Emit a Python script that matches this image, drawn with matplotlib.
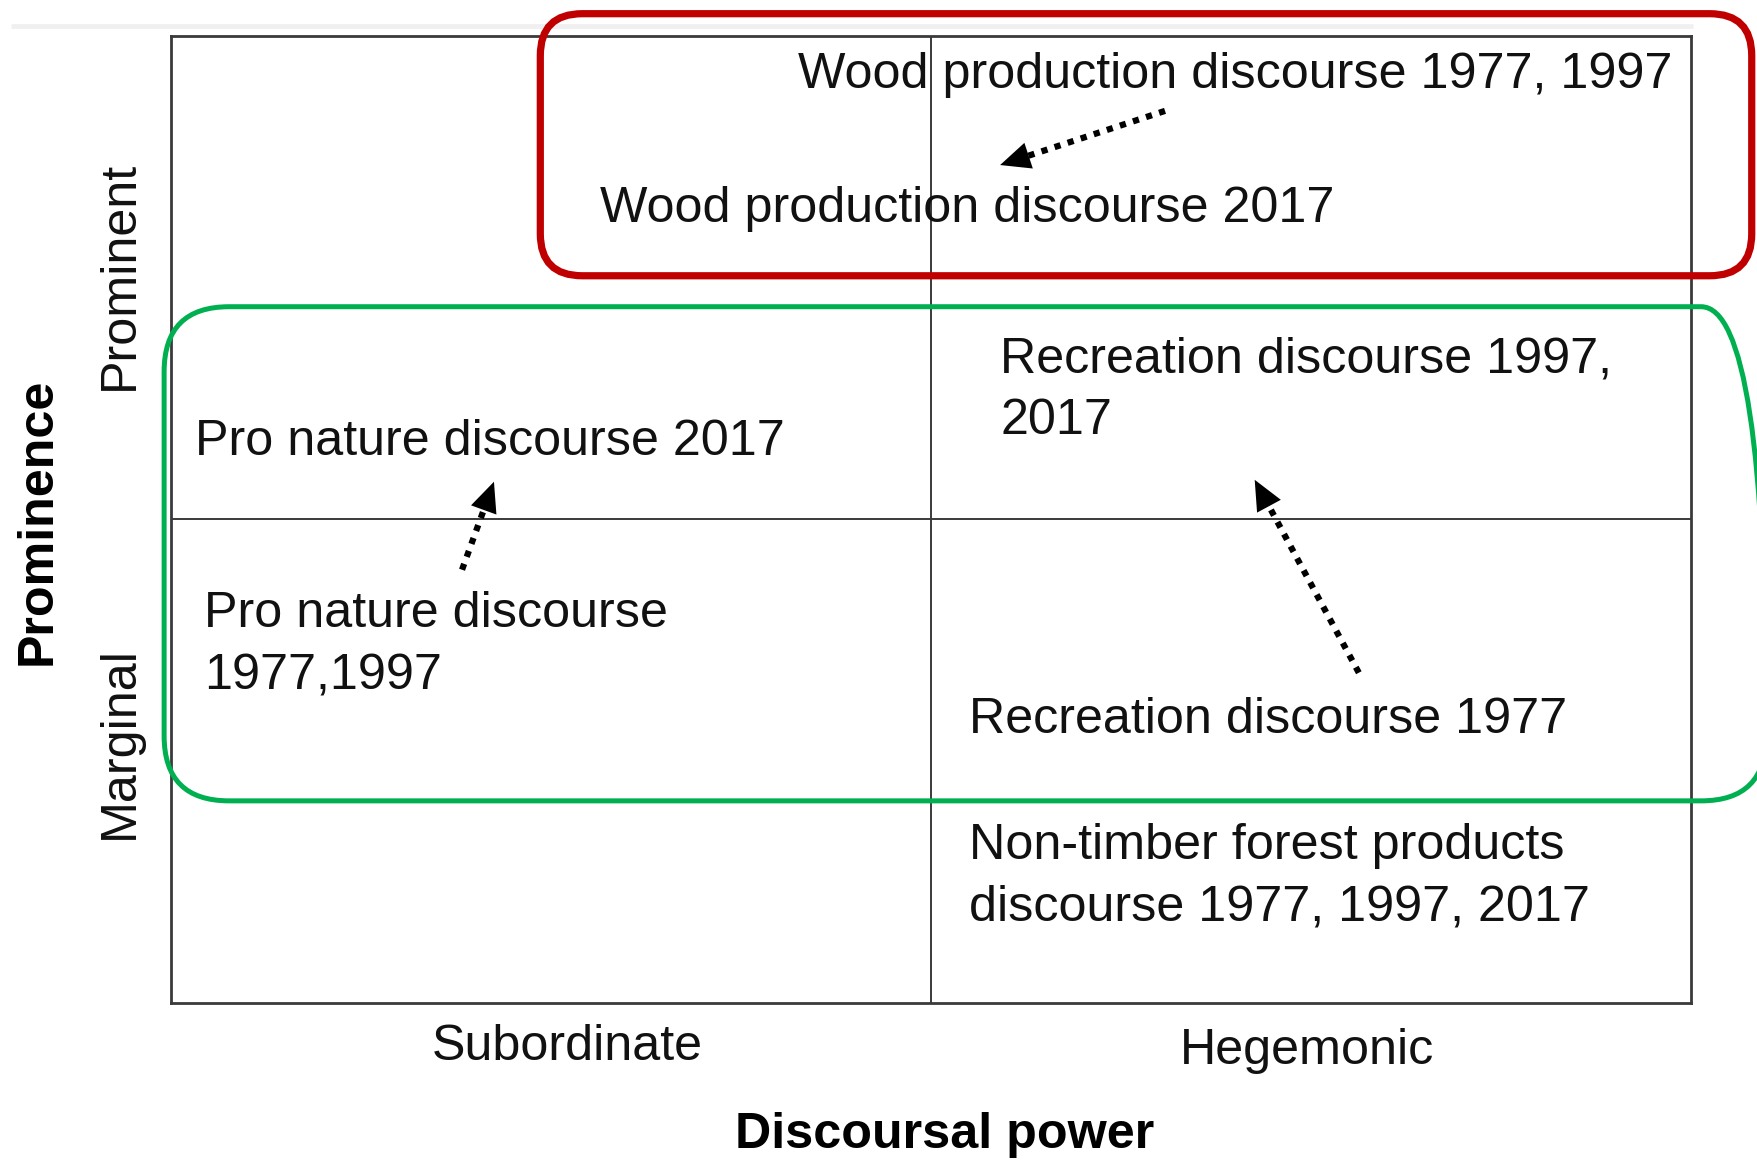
import numpy as np
import matplotlib.pyplot as plt
from matplotlib.patches import FancyBboxPatch

plt.rcParams['font.family'] = ['Liberation Sans', 'DejaVu Sans']

# Quadrant diagram: x = discoursal power (0-1 subordinate, 1-2 hegemonic),
# y = prominence (0-1 marginal, 1-2 prominent)
x_categories = ['Subordinate', 'Hegemonic']
y_categories = ['Marginal', 'Prominent']
x_title = 'Discoursal power'
y_title = 'Prominence'

# one entry per text line: (text, x left, y baseline)
discourse_lines = [
    ('Wood production discourse 1977, 1997', 0.825, 1.892),
    ('Wood production discourse 2017', 0.564, 1.615),
    ('Pro nature discourse 2017', 0.032, 1.133),
    ('Recreation discourse 1997,', 1.091, 1.303),
    ('2017', 1.091, 1.177),
    ('Pro nature discourse', 0.043, 0.778),
    ('1977,1997', 0.043, 0.648),
    ('Recreation discourse 1977', 1.050, 0.558),
    ('Non-timber forest products', 1.050, 0.298),
    ('discourse 1977, 1997, 2017', 1.050, 0.170),
]

# shifts between periods: (from, to)
shift_from = [(1.308, 1.845), (0.383, 0.896), (1.563, 0.683)]
shift_to = [(1.091, 1.733), (0.425, 1.078), (1.426, 1.082)]

fig = plt.figure(figsize=(17.57, 11.63), dpi=100)
ax = fig.add_axes([0.0973, 0.1376, 0.8651, 0.8315])
ax.set_xlim(0, 2)
ax.set_ylim(0, 2)
ax.set_xticks([])
ax.set_yticks([])
for sp in ax.spines.values():
    sp.set_color('#3a3a3a')
    sp.set_linewidth(2)
ax.axvline(1, color='#3a3a3a', lw=1.4)
ax.axhline(1, color='#3a3a3a', lw=1.4)

# faint band at the very top (screenshot edge)
ax.plot([-0.211, 2.003], [2.020, 2.020], color='#f0f0f0', lw=3.5,
        solid_capstyle='butt', clip_on=False, zorder=0)

fs = 36.2
for txt, x, y in discourse_lines:
    ax.text(x, y, txt, fontsize=fs, ha='left', va='baseline', color='#111111')

# category labels
ax.text(0.522, -0.118, x_categories[0], fontsize=fs, ha='center', va='baseline', color='#111111')
ax.text(1.495, -0.126, x_categories[1], fontsize=fs, ha='center', va='baseline', color='#111111')
ax.text(-0.067, 0.538, y_categories[0], fontsize=fs, rotation=90, ha='center', va='center', color='#111111')
ax.text(-0.067, 1.504, y_categories[1], fontsize=fs, rotation=90, ha='center', va='center', color='#111111')

ax.text(1.018, -0.273, x_title, fontsize=fs, fontweight='bold', ha='center', va='center')
ax.text(-0.176, 0.997, y_title, fontsize=fs, fontweight='bold', rotation=90, ha='center', va='center')

# highlight boxes, rounding corrected for the axes aspect
px_x = 760.0
px_y = 483.5
aspect = px_x / px_y
red = FancyBboxPatch((0.486, 1.504), 2.080 - 0.486, 2.046 - 1.504,
                     boxstyle='round,pad=0,rounding_size=%f' % (42 / px_x),
                     mutation_aspect=aspect, fill=False, ec='#c00000', lw=5.2,
                     clip_on=False, zorder=5)
green = FancyBboxPatch((-0.009, 0.418), 2.099 + 0.009, 1.440 - 0.418,
                       boxstyle='round,pad=0,rounding_size=%f' % (65 / px_x),
                       mutation_aspect=aspect, fill=False, ec='#00b050', lw=3.6,
                       clip_on=False, zorder=5)
ax.add_patch(red)
ax.add_patch(green)

# dotted arrows
fig.canvas.draw()
for (x0, y0), (x1, y1) in zip(shift_from, shift_to):
    p0 = ax.transData.transform((x0, y0))
    p1 = ax.transData.transform((x1, y1))
    d = (p1 - p0) / np.linalg.norm(p1 - p0)
    pend = ax.transData.inverted().transform(p1 - d * 14)
    pback = ax.transData.inverted().transform(p1 - d * 30)
    ax.plot([x0, pend[0]], [y0, pend[1]], color='black', lw=4.5,
            linestyle=(0, (1, 1.2)), zorder=6)
    ax.annotate('', xy=(x1, y1), xytext=(pback[0], pback[1]),
                arrowprops=dict(arrowstyle='-|>,head_length=0.6,head_width=0.27',
                                mutation_scale=36, color='black', lw=0,
                                shrinkA=0, shrinkB=0), zorder=7)

fig.savefig('out.png', dpi=100)
